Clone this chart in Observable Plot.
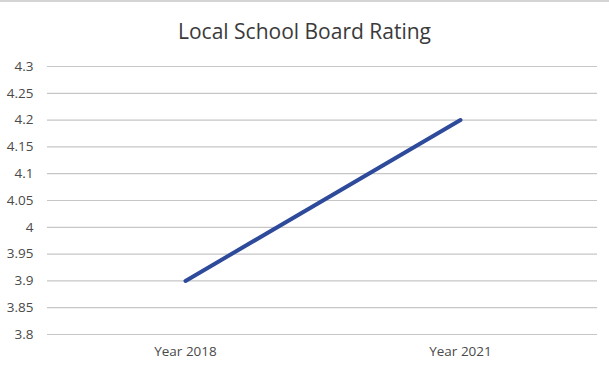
<!DOCTYPE html>
<html>
<head>
<meta charset="utf-8">
<script src="https://cdn.jsdelivr.net/npm/d3@7"></script>
<script src="https://cdn.jsdelivr.net/npm/@observablehq/plot@0.6"></script>
<style>
  html, body { margin: 0; padding: 0; background: #fff; }
  body { width: 609px; height: 367px; overflow: hidden; border-top: 2px solid #d4d4d4; box-sizing: border-box; }
  #title { height: 48px; box-sizing: border-box; padding-top: 15px; text-align: center;
           font-family: "Open Sans", "Noto Sans", sans-serif; font-size: 21px; color: #3a3a3a; line-height: 28px; }
</style>
</head>
<body>
<div id="title">Local School Board Rating</div>
<div id="chart"></div>
<script>
const categories = ["Year 2018", "Year 2021"];
const ratings = [3.9, 4.2];
const yTicks = [3.8, 3.85, 3.9, 3.95, 4, 4.05, 4.1, 4.15, 4.2, 4.25, 4.3];

const data = categories.map((c, i) => ({category: c, rating: ratings[i]}));

const chart = Plot.plot({
  width: 609,
  height: 317,
  marginTop: 16,
  marginBottom: 33,
  marginLeft: 47,
  marginRight: 12,
  style: {fontFamily: "'Open Sans', 'Noto Sans', sans-serif", fontSize: "13.5px", color: "#4a4a4a", background: "#fff"},
  x: {type: "point", domain: categories, padding: 0.5, label: null, tickSize: 0, tickPadding: 12},
  y: {domain: [3.8, 4.3], ticks: yTicks, tickFormat: d => String(+d.toFixed(2)), label: null, tickSize: 0, tickPadding: 14},
  marks: [
    Plot.ruleY(yTicks, {stroke: "#c6c6c6", strokeWidth: 1.2}),
    Plot.line(data, {x: "category", y: "rating", stroke: "#2E4A9B", strokeWidth: 4, strokeLinecap: "round"})
  ]
});
document.getElementById("chart").appendChild(chart);
</script>
</body>
</html>
